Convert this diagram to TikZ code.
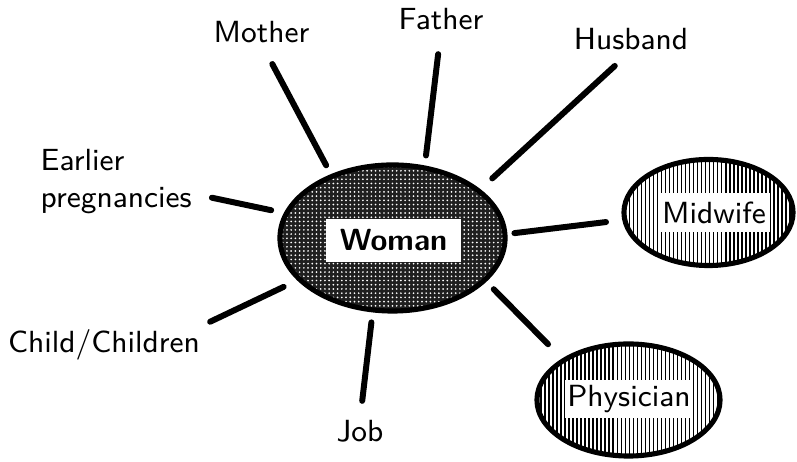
\documentclass[tikz,border=0pt]{standalone}
\usepackage{tikz}
\usetikzlibrary{shapes.geometric}
\usetikzlibrary{patterns.meta}

\begin{document}
\begin{tikzpicture}[x=0.01cm, y=-0.01cm,
    every node/.style={font=\sffamily\fontsize{8.7}{10.8}\selectfont, inner sep=0pt},
    relation/.style={anchor=base},
    spoke/.style={line width=1.7pt, line cap=round},
    oval/.style={ellipse, draw, line width=1.45pt},
    stripes/.style={pattern={Lines[angle=90, distance=1.14pt, line width=0.5pt]}},
    tag/.style={fill=white}]

    \useasboundingbox (0,0) rectangle (797,462);

    % Centre
    \node[oval, minimum width=2.25cm, minimum height=1.46cm,
          preaction={fill=black!88},
          pattern={Dots[distance=1.2pt, radius=0.27pt]}, pattern color=white]
          (woman) at (392.5,238) {};
    \node[tag, minimum width=1.35cm, minimum height=0.43cm] (womantext) at (393.5,240.5) {\bfseries Woman};

    % Professionals
    \node[oval, stripes, minimum width=1.69cm, minimum height=1.06cm] (midwife) at (708.5,212.5) {};
    \node[tag, minimum width=1.12cm, minimum height=0.39cm] (midwifetext) at (714,212.5) {Midwife};
    \node[oval, stripes, minimum width=1.83cm, minimum height=1.12cm] (physician) at (628.5,400) {};
    \node[tag, minimum width=1.28cm, minimum height=0.38cm] (physiciantext) at (629,399) {Physician};

    % Relations
    \node[relation] (mother) at (261.5,42.7) {Mother};
    \node[relation] (father) at (441,29.3) {Father};
    \node[relation] (husband) at (631,50) {Husband};
    \node[align=left, anchor=south west] (earlier) at (40,215) {Earlier\\pregnancies};
    \node[relation] (child) at (104,352.7) {Child/Children};
    \node[relation] (job) at (360,441.7) {Job};

    % Spokes
    \draw[spoke, shorten <=0.1cm, shorten >=0.23cm] (woman.134.5) -- (mother.south);
    \draw[spoke, shorten <=0.1cm, shorten >=0.24cm] (woman.66.8) -- (father.south);
    \draw[spoke, shorten <=0.16cm, shorten >=0.22cm] (woman.29.4) -- (husband.south);
    \draw[spoke, shorten <=0.13cm, shorten >=0.2cm] (woman.167.3) -- (earlier.-9);
    \draw[spoke, shorten <=0.15cm, shorten >=0.17cm] (woman.204.5) -- (child.10);
    \draw[spoke, shorten <=0.1cm, shorten >=0.19cm] (woman.255.1) -- (job.north);
    \draw[spoke, shorten <=0.07cm, shorten >=0.18cm] (woman.2.1) -- (midwife.185.2);
    \draw[spoke, shorten <=0.105cm, shorten >=0.2cm] (woman.-25.7) -- (physician.148.4);

\end{tikzpicture}
\end{document}
